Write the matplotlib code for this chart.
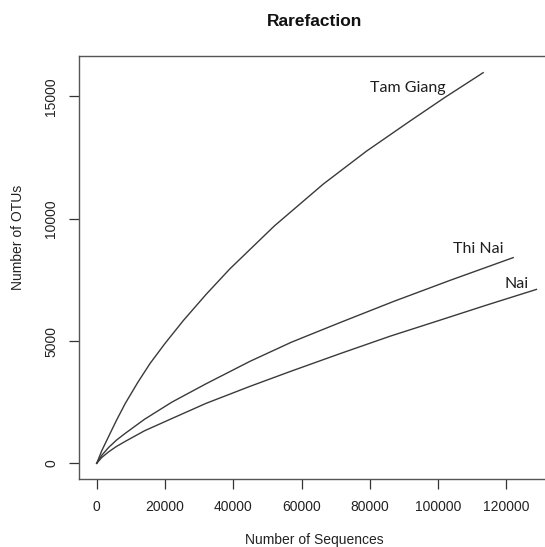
import matplotlib
matplotlib.use('Agg')
import matplotlib.pyplot as plt

# rarefaction curves
tam_giang_seqs = [0, 1500, 3500, 5800, 8400, 12000, 15600, 20000, 25400, 32000, 39000,
                  52000, 66400, 79000, 91700, 102000, 113200]
tam_giang_otus = [0, 520, 1100, 1760, 2457, 3300, 4077, 4900, 5841, 6900, 7949,
                  9700, 11420, 12760, 13986, 14960, 15970]

thi_nai_seqs = [0, 1500, 3500, 5800, 8400, 14000, 22000, 32000, 44900, 57000, 71200, 87000, 103500, 122000]
thi_nai_otus = [0, 330, 650, 950, 1230, 1800, 2500, 3250, 4170, 4950, 5750, 6620, 7480, 8410]

nai_seqs = [0, 1500, 3500, 5800, 8400, 14000, 22000, 32000, 44900, 57000, 71200, 86000, 100500, 114000, 128800]
nai_otus = [0, 240, 470, 690, 900, 1330, 1830, 2450, 3147, 3770, 4480, 5200, 5850, 6460, 7110]

# sample labels and where they sit (data coords)
sample_names = ['Tam Giang', 'Thi Nai', 'Nai']
label_x = [91200, 111700, 123100]
label_y = [15330, 8750, 7320]

x_ticks = [0, 20000, 40000, 60000, 80000, 100000, 120000]
y_ticks = [0, 5000, 10000, 15000]

plt.rcParams['font.family'] = ['Liberation Sans', 'DejaVu Sans']

fig = plt.figure(figsize=(5.45, 5.47), dpi=100)
ax = fig.add_axes([0.1455, 0.1243, 0.8618, 0.7739])

for xs, ys in [(tam_giang_seqs, tam_giang_otus), (thi_nai_seqs, thi_nai_otus), (nai_seqs, nai_otus)]:
    ax.plot(xs, ys, color='#3a3a3a', lw=1.0)

for name, lx, ly in zip(sample_names, label_x, label_y):
    ax.text(lx, ly, name, family='Lato', fontsize=11.5, color='#1e1e1e', ha='center', va='center')

# R style: 4% padding round the data
ax.set_xlim(-5095, 132475)
ax.set_ylim(-641, 16665)
ax.set_xticks(x_ticks)
ax.set_xticklabels([str(t) for t in x_ticks])
ax.set_yticks(y_ticks)
ax.set_yticklabels([str(t) for t in y_ticks], rotation=90, va='center')
ax.tick_params(length=7, width=0.9, color='#333333', labelsize=10, pad=8, labelcolor='#222222')

for sp in ax.spines.values():
    sp.set_color('#555555')
    sp.set_linewidth(1.0)

fig.text(0.577, 0.9616, 'Rarefaction', ha='center', va='center', fontsize=12.5, fontweight='bold', color='#111111')
fig.text(0.577, 0.0128, 'Number of Sequences', ha='center', va='center', fontsize=10, color='#222222')
fig.text(0.033, 0.5652, 'Number of OTUs', ha='center', va='center', rotation=90, fontsize=10, color='#222222')

fig.savefig('out.png', dpi=100)
